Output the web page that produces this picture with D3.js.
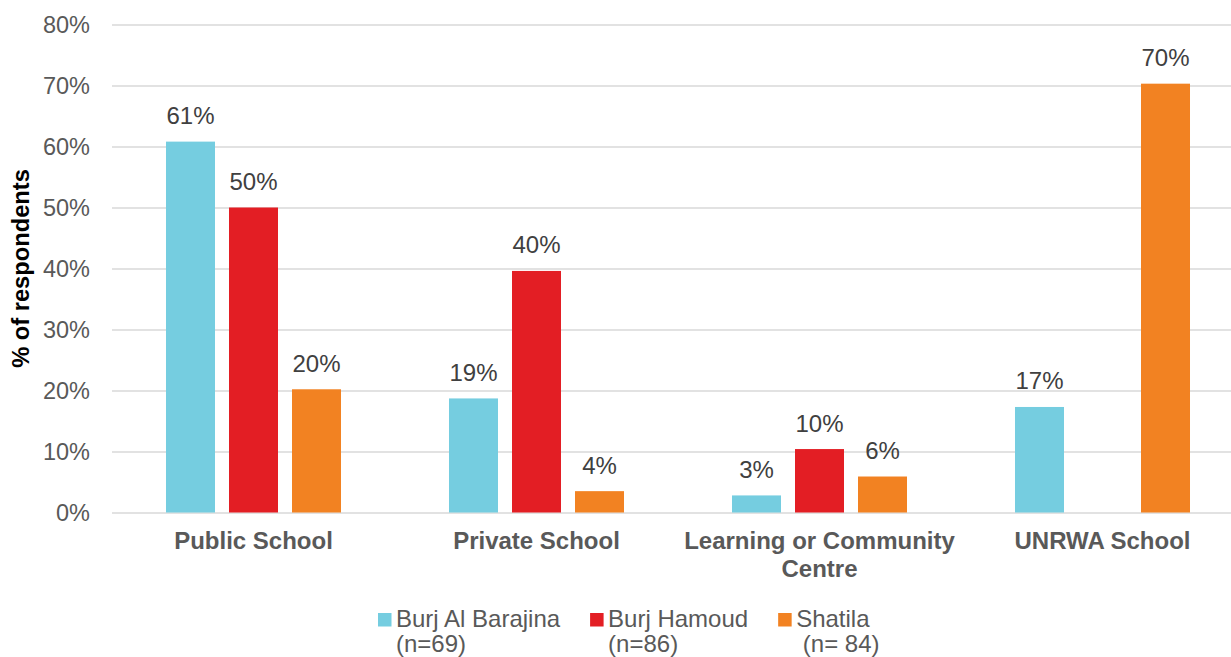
<!DOCTYPE html>
<html>
<head>
<meta charset="utf-8">
<script src="https://cdn.jsdelivr.net/npm/d3@7"></script>
<style>
  html, body { margin: 0; padding: 0; background: #fff; }
  svg { display: block; font-family: "Liberation Sans", Arial, sans-serif; }
</style>
</head>
<body>
<svg id="chart" width="1231" height="657"></svg>
<script>
// School type attended, by location
const categories = ["Public School", "Private School", "Learning or Community Centre", "UNRWA School"];
const categoryLines = [["Public School"], ["Private School"], ["Learning or Community", "Centre"], ["UNRWA School"]];
const seriesNames = ["Burj Al Barajina", "Burj Hamoud", "Shatila"];
const seriesSample = ["(n=69)", "(n=86)", " (n= 84)"];
const burjAlBarajina = [0.608, 0.187, 0.028, 0.173];
const burjHamoud = [0.500, 0.396, 0.104, null];
const shatila = [0.202, 0.035, 0.059, 0.703];
const yTicks = [0, 0.1, 0.2, 0.3, 0.4, 0.5, 0.6, 0.7, 0.8];
const colors = ["#75cde0", "#e31e24", "#f28222"];

const seriesValues = [burjAlBarajina, burjHamoud, shatila];

const W = 1231, H = 657;
const margin = { left: 112, right: -13, top: 24.5, bottom: 144.5 };
const svg = d3.select("#chart");

const x0 = d3.scaleBand()
  .domain(categories)
  .range([margin.left, W - margin.right])
  .padding(0);

const x1 = d3.scaleBand()
  .domain(seriesNames)
  .range([0, x0.bandwidth()])
  .paddingInner(14 / 63)
  .paddingOuter(0.857);

const y = d3.scaleLinear()
  .domain([0, 0.8])
  .range([H - margin.bottom, margin.top]);

// Gridlines and tick labels
const yAxis = svg.append("g")
  .attr("transform", `translate(${margin.left},0)`)
  .call(d3.axisLeft(y)
    .tickValues(yTicks)
    .tickFormat(d3.format(".0%"))
    .tickSize(-(W - margin.left))
    .tickPadding(22));
yAxis.select(".domain").remove();
yAxis.selectAll(".tick line")
  .attr("stroke", "#d9d9d9")
  .attr("stroke-width", 1.6);
yAxis.selectAll(".tick text")
  .attr("fill", "#595959")
  .attr("font-size", 23.5)
  .attr("font-family", "Liberation Sans, Arial, sans-serif");

// Y axis title
svg.append("text")
  .attr("transform", `translate(29,${(y(0) + y(0.8)) / 2}) rotate(-90)`)
  .attr("text-anchor", "middle")
  .attr("font-size", 23.7)
  .attr("font-weight", "bold")
  .attr("fill", "#000")
  .text("% of respondents");

// Bars
const rows = [];
categories.forEach((c, i) => {
  seriesNames.forEach((s, j) => {
    rows.push({ category: c, series: s, value: seriesValues[j][i], color: colors[j] });
  });
});
const present = rows.filter(d => d.value !== null);

svg.append("g")
  .selectAll("rect")
  .data(present)
  .join("rect")
  .attr("x", d => x0(d.category) + x1(d.series))
  .attr("y", d => y(d.value))
  .attr("width", x1.bandwidth())
  .attr("height", d => y(0) - y(d.value))
  .attr("fill", d => d.color);

// Value labels
svg.append("g")
  .selectAll("text")
  .data(present)
  .join("text")
  .attr("x", d => x0(d.category) + x1(d.series) + x1.bandwidth() / 2)
  .attr("y", d => y(d.value) - 17.5)
  .attr("text-anchor", "middle")
  .attr("font-size", 24)
  .attr("fill", "#404040")
  .text(d => d3.format(".0%")(d.value));

// Category labels
const catG = svg.append("g");
categories.forEach((c, i) => {
  const t = catG.append("text")
    .attr("x", x0(c) + x0.bandwidth() / 2)
    .attr("y", 548.5)
    .attr("text-anchor", "middle")
    .attr("font-size", 24)
    .attr("font-weight", "bold")
    .attr("fill", "#595959");
  categoryLines[i].forEach((line, k) => {
    t.append("tspan")
      .attr("x", x0(c) + x0.bandwidth() / 2)
      .attr("dy", k === 0 ? 0 : 28)
      .text(line);
  });
});

// Legend
const legend = svg.append("g");
let lx = 378;
seriesNames.forEach((s, j) => {
  legend.append("rect")
    .attr("x", lx)
    .attr("y", 613)
    .attr("width", 13.5)
    .attr("height", 13.5)
    .attr("fill", colors[j]);
  const t = legend.append("text")
    .attr("x", lx + 18)
    .attr("y", 627)
    .attr("font-size", 24)
    .attr("fill", "#595959")
    .style("white-space", "pre");
  t.append("tspan").attr("x", lx + 18).text(s);
  t.append("tspan").attr("x", lx + 18).attr("dy", 25).text(seriesSample[j]);
  const w = t.select("tspan").node().getComputedTextLength();
  lx = lx + 18 + w + 30;
});
</script>
</body>
</html>
